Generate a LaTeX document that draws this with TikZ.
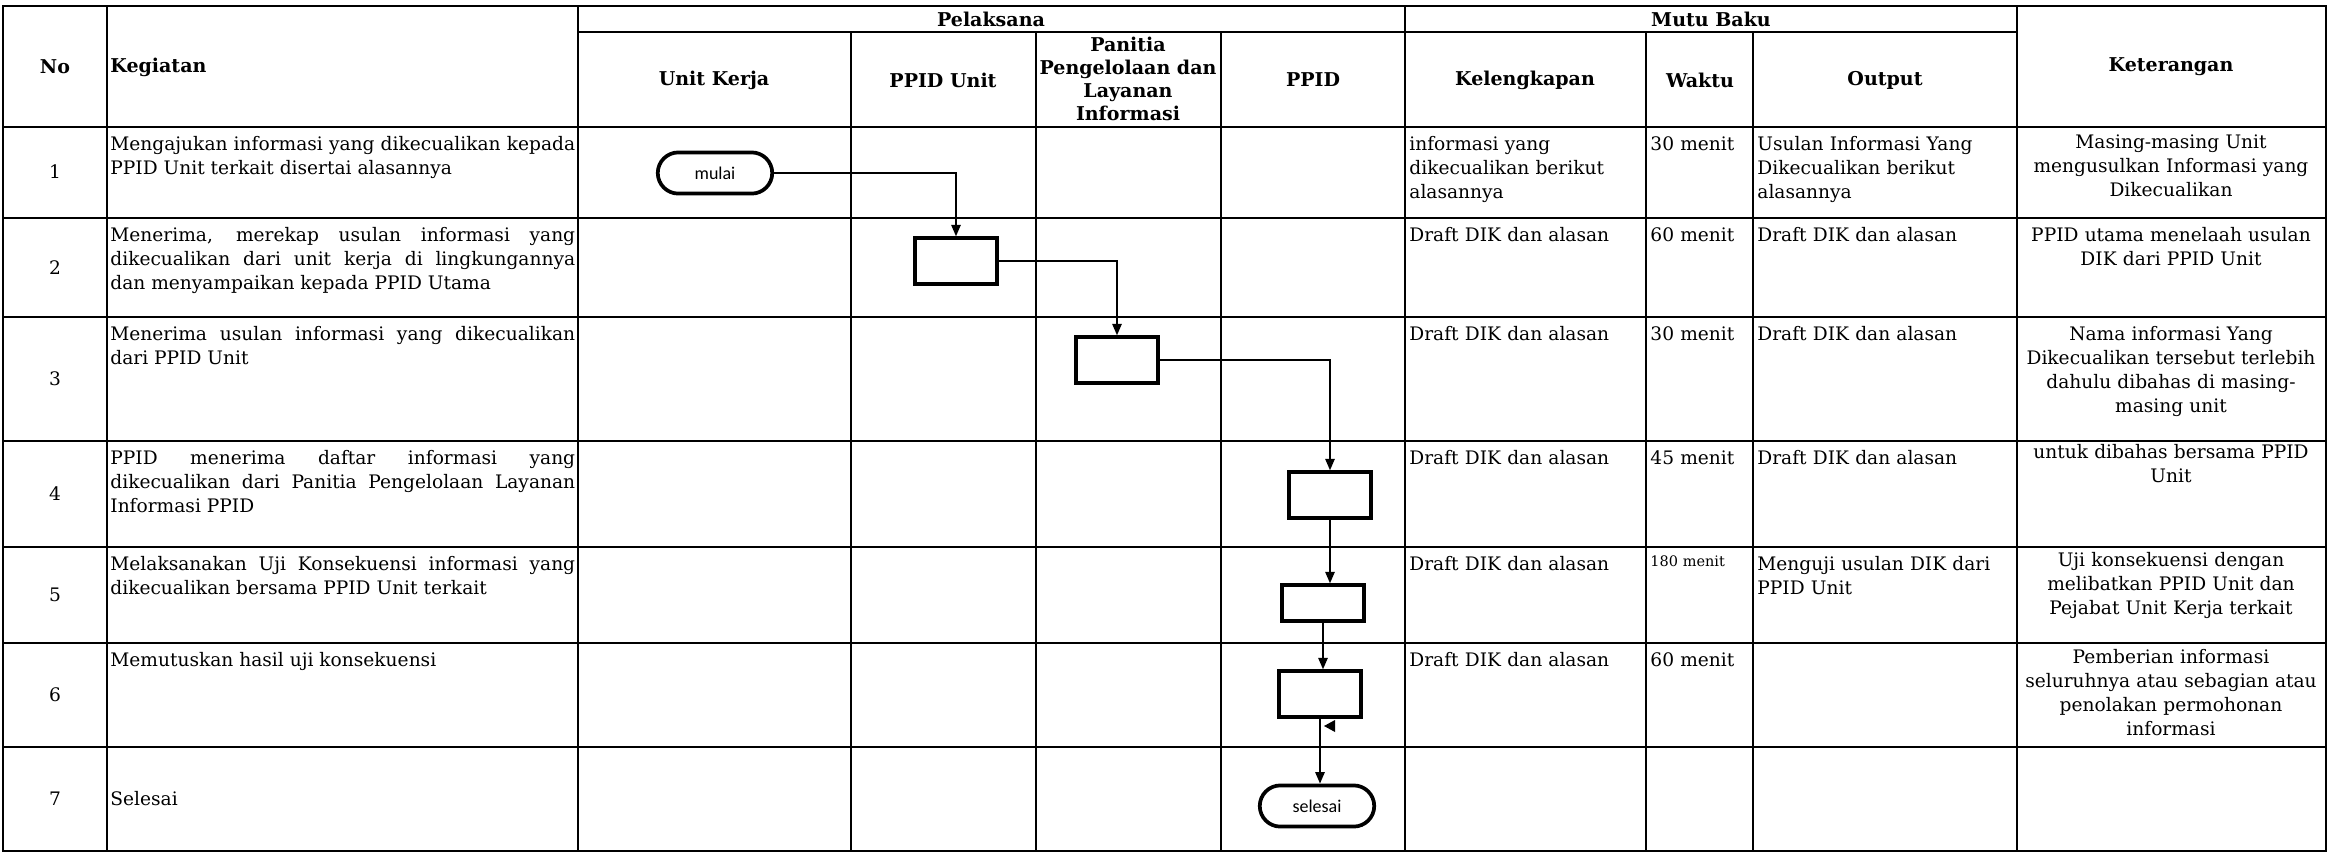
\documentclass[tikz,border=0pt]{standalone}
\usepackage{fontspec}
\setmainfont{DejaVu Serif}
\newfontfamily\termfamily{Carlito}
\usepackage{tikz}
\usetikzlibrary{shapes.misc,arrows.meta}

\newcommand{\celfont}{\fontsize{9}{11.7}\selectfont}
\newcommand{\hdfont}{\fontsize{9.2}{11}\selectfont\bfseries}
\newcommand{\termfont}{\fontsize{8.7}{10}\selectfont\termfamily}

\begin{document}
\begin{tikzpicture}[
    x=0.017cm, y=-0.017cm,
    grid/.style={line width=1.1pt},
    head/.style={font=\hdfont, align=center, inner sep=0pt},
    num/.style={font=\celfont, inner sep=0pt},
    txt/.style={font=\celfont, anchor=base west, inner sep=0pt, align=left},
    keg/.style={txt, text width=7.9cm, align=justify},
    kel/.style={txt, text width=4.0cm},
    wkt/.style={txt, text width=1.7cm},
    outp/.style={txt, text width=4.4cm},
    ket/.style={font=\celfont, anchor=base, inner sep=0pt, text width=5.2cm, align=center},
    process/.style={rectangle, draw, line width=2pt, minimum width=1.39cm, minimum height=0.77cm},
    terminal/.style={rounded rectangle, draw, line width=1.8pt, minimum width=2.18cm, minimum height=0.7cm, font=\termfont},
    arrow/.style={->, >={Triangle[length=5.5pt,width=4.5pt]}, line width=0.8pt}
]
    \useasboundingbox (0,0) rectangle (2329,853);

    % Table grid
    \draw[grid] (3,6) rectangle (2326,851);
    \draw[grid] (578,32) -- (2017,32);
    \foreach \y in {127,218,317,441,547,643,747}
        \draw[grid] (3,\y) -- (2326,\y);
    \foreach \x in {107,578,1405,2017}
        \draw[grid] (\x,6) -- (\x,851);
    \foreach \x in {851,1036,1221,1646,1753}
        \draw[grid] (\x,32) -- (\x,851);

    % Header
    \node[head] (hno) at (55,67) {No};
    \node[head, anchor=west] (hkeg) at (110,67) {Kegiatan};
    \node[head] (hpel) at (991,19) {Pelaksana};
    \node[head] (hmutu) at (1711,19) {Mutu Baku};
    \node[head] (hunit) at (714,80) {Unit Kerja};
    \node[head] (hppidu) at (943,80) {PPID Unit};
    \node[head] (hpanitia) at (1128,79) {Panitia\\Pengelolaan dan\\Layanan\\Informasi};
    \node[head] (hppid) at (1313,80) {PPID};
    \node[head] (hkel) at (1525,80) {Kelengkapan};
    \node[head] (hwkt) at (1700,80) {Waktu};
    \node[head] (hout) at (1885,80) {Output};
    \node[head] (hket) at (2171,67) {Keterangan};

    % Nomor
    \node[num] (no1) at (55,172) {1};
    \node[num] (no2) at (55,268) {2};
    \node[num] (no3) at (55,379) {3};
    \node[num] (no4) at (55,494) {4};
    \node[num] (no5) at (55,595) {5};
    \node[num] (no6) at (55,695) {6};
    \node[num] (no7) at (55,799) {7};

    % Kegiatan
    \node[keg] (keg1) at (110,150) {Mengajukan informasi yang dikecualikan kepada\linebreak PPID Unit terkait disertai alasannya};
    \node[keg] (keg2) at (110,241) {Menerima, merekap usulan informasi yang\linebreak dikecualikan dari unit kerja di lingkungannya\linebreak dan menyampaikan kepada PPID Utama};
    \node[keg] (keg3) at (110,340) {Menerima usulan informasi yang dikecualikan\linebreak dari PPID Unit};
    \node[keg] (keg4) at (110,464) {PPID menerima daftar informasi yang\linebreak dikecualikan dari Panitia Pengelolaan Layanan\linebreak Informasi PPID};
    \node[keg] (keg5) at (110,570) {Melaksanakan Uji Konsekuensi informasi yang\linebreak dikecualikan bersama PPID Unit terkait};
    \node[keg] (keg6) at (110,666) {Memutuskan hasil uji konsekuensi};
    \node[txt, anchor=west] (keg7) at (110,799) {Selesai};

    % Kelengkapan
    \node[kel] (kel1) at (1409,150) {informasi yang\\dikecualikan berikut\\alasannya};
    \node[kel] (kel2) at (1409,241) {Draft DIK dan alasan};
    \node[kel] (kel3) at (1409,340) {Draft DIK dan alasan};
    \node[kel] (kel4) at (1409,464) {Draft DIK dan alasan};
    \node[kel] (kel5) at (1409,570) {Draft DIK dan alasan};
    \node[kel] (kel6) at (1409,666) {Draft DIK dan alasan};

    % Waktu
    \node[wkt] (wkt1) at (1650,150) {30 menit};
    \node[wkt] (wkt2) at (1650,241) {60 menit};
    \node[wkt] (wkt3) at (1650,340) {30 menit};
    \node[wkt] (wkt4) at (1650,464) {45 menit};
    \node[wkt, font=\fontsize{7}{8}\selectfont] (wkt5) at (1650,566) {180 menit};
    \node[wkt] (wkt6) at (1650,666) {60 menit};

    % Output
    \node[outp] (out1) at (1757,150) {Usulan Informasi Yang\\Dikecualikan berikut\\alasannya};
    \node[outp] (out2) at (1757,241) {Draft DIK dan alasan};
    \node[outp] (out3) at (1757,340) {Draft DIK dan alasan};
    \node[outp] (out4) at (1757,464) {Draft DIK dan alasan};
    \node[outp] (out5) at (1757,570) {Menguji usulan DIK dari\\PPID Unit};

    % Keterangan
    \node[ket] (ket1) at (2171,148) {Masing-masing Unit\\mengusulkan Informasi yang\\Dikecualikan};
    \node[ket] (ket2) at (2171,241) {PPID utama menelaah usulan\\DIK dari PPID Unit};
    \node[ket] (ket3) at (2171,340) {Nama informasi Yang\\Dikecualikan tersebut terlebih\\dahulu dibahas di masing-\\masing unit};
    \node[ket] (ket4) at (2171,458) {untuk dibahas bersama PPID\\Unit};
    \node[ket] (ket5) at (2171,566) {Uji konsekuensi dengan\\melibatkan PPID Unit dan\\Pejabat Unit Kerja terkait};
    \node[ket] (ket6) at (2171,663) {Pemberian informasi\\seluruhnya atau sebagian atau\\penolakan permohonan\\informasi};

    % Flow
    \node[terminal] (mulai) at (715,173) {mulai};
    \node[process] (terima) at (956,261) {};
    \node[process] (usulan) at (1117,360) {};
    \node[process] (daftar) at (1330,495) {};
    \node[process, minimum height=0.6cm] (uji) at (1323,603) {};
    \node[process] (putus) at (1320,694) {};
    \node[terminal] (selesai) at (1317,806) {selesai};

    % Arrows
    \draw[arrow] (mulai.east) -| (terima.north);
    \draw[arrow] (terima.east) -| (usulan.north);
    \draw[arrow] (usulan.east) -| (daftar.north);
    \draw[arrow] (daftar.south) -- (daftar.south |- uji.north);
    \draw[arrow] (uji.south) -- (uji.south |- putus.north);
    \draw[arrow] (putus.south) -- (putus.south |- selesai.north);
    \fill (1324,726) -- (1335,720) -- (1335,732) -- cycle;
\end{tikzpicture}
\end{document}
